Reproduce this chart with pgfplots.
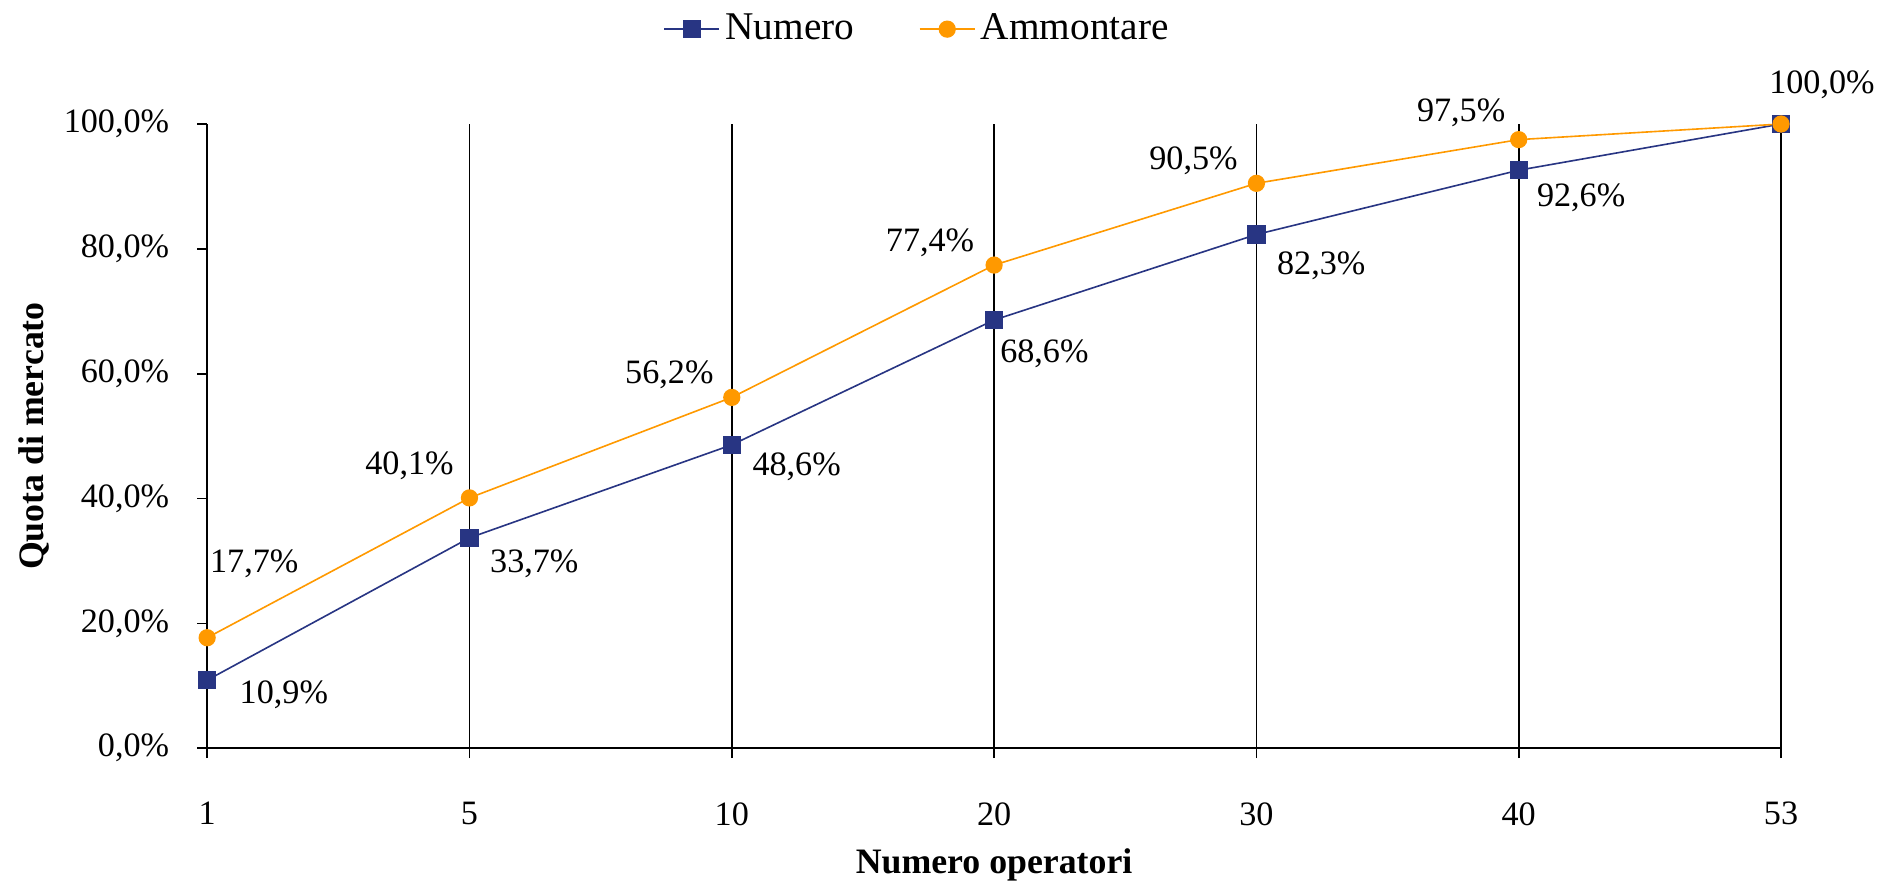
\documentclass[border=0pt]{standalone}
\usepackage{fontspec}
\setmainfont{Liberation Serif}
\usepackage{pgfplots}
\usepackage{pgfplotstable}
\pgfplotsset{compat=1.18}
\definecolor{navy}{RGB}{40,53,131}
\definecolor{amber}{RGB}{255,153,0}

% label offsets (pt) for each data label
\pgfplotstableread{
x y dx dy
0 10.9 28.5 -5.4
1 33.7 24.1 -9.8
2 48.6 24.1 -8.0
3 68.6 18.7 -12.5
4 82.3 24.1 -11.6
5 92.6 23.2 -10.3
}\numlab
\pgfplotstableread{
x y dx dy
0 17.7 17.5 27.4
1 40.1 -22.3 12.0
2 56.2 -23.2 8.5
3 77.4 -23.8 8.2
4 90.5 -23.4 8.2
5 97.5 -21.4 9.8
6 100 15.2 14.7
}\ammlab

\pgfplotsset{datalabels/.style={forget plot, draw=none, mark=none,
  point meta=explicit,
  visualization depends on={\thisrow{dx}\as\dx},
  visualization depends on={\thisrow{dy}\as\dy},
  nodes near coords={\pgfmathprintnumber[fixed,fixed zerofill,precision=1,use comma,assume math mode=true]{\pgfplotspointmeta}\%},
  every node near coord/.append style={anchor=center, black, xshift=\dx*1pt, yshift=\dy*1pt}}}

\begin{document}
\fontsize{12.7}{15}\selectfont
\begin{tikzpicture}
\begin{axis}[
  name=ax,
  scale only axis, width=585pt, height=232pt,
  xmin=0, xmax=6, ymin=0, ymax=100,
  clip=false,
  axis x line=bottom, axis y line=left,
  axis line style={-, line width=0.6pt},
  xtick={0,...,6}, xticklabels={1,5,10,20,30,40,53},
  ytick={0,20,40,60,80,100},
  yticklabels={{0,0\%},{20,0\%},{40,0\%},{60,0\%},{80,0\%},{100,0\%}},
  tick align=outside, major tick length=3.7pt,
  tick style={black, line width=0.6pt},
  xmajorgrids, grid style={black, line width=0.6pt},
  xticklabel shift=12pt, yticklabel shift=6pt,
  tick label style={font=\fontsize{12.7}{15}\selectfont},
  xlabel={Numero operatori}, ylabel={Quota di mercato},
  label style={font=\fontsize{13.3}{16}\selectfont\bfseries},
  xlabel style={at={(axis description cs:0.5,-0.1875)}, anchor=center},
  ylabel style={at={(axis description cs:-0.1101,0.5)}, anchor=center},
  legend style={at={(axis description cs:0.4521,1.152)}, anchor=center,
    draw=none, font=\fontsize{14.6}{17}\selectfont},
  legend columns=2,
  legend image code/.code={\draw[mark repeat=2,mark phase=2]
    plot coordinates {(0cm,0cm)(0.36cm,0cm)(0.72cm,0cm)};},
  /tikz/every even column/.append style={column sep=22pt},
  every node near coord/.append style={font=\fontsize{12.7}{15}\selectfont},
]
\addplot[navy, line width=0.6pt, mark=square*, mark size=3.1pt, mark options={solid}]
  coordinates {(0,10.9)(1,33.7)(2,48.6)(3,68.6)(4,82.3)(5,92.6)(6,100)};
\addlegendentry{Numero}
\addplot[amber, line width=0.6pt, mark=*, mark size=2.9pt, mark options={solid}]
  coordinates {(0,17.7)(1,40.1)(2,56.2)(3,77.4)(4,90.5)(5,97.5)(6,100)};
\addlegendentry{Ammontare}

\addplot[datalabels] table[x=x, y=y, meta=y] {\numlab};
\addplot[datalabels] table[x=x, y=y, meta=y] {\ammlab};
\end{axis}
\pgfresetboundingbox
\path ([shift={(-77pt,-50.9pt)}]ax.south west) rectangle ([shift={(37.9pt,46.1pt)}]ax.north east);
\end{tikzpicture}
\end{document}
